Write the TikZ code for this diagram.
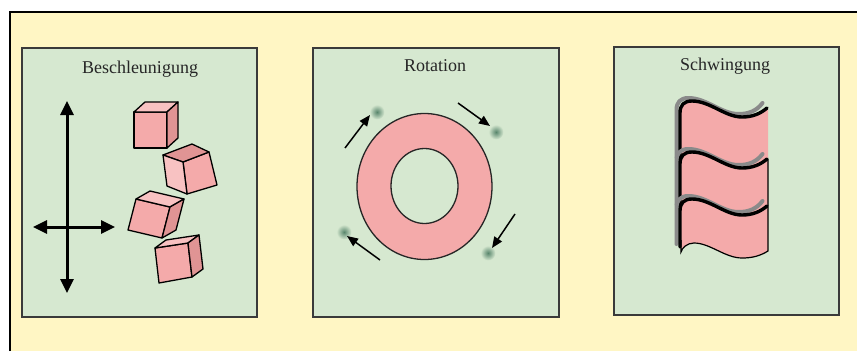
\documentclass[tikz,border=0pt]{standalone}
\usepackage{fontspec}
\setmainfont{Liberation Serif}
\usetikzlibrary{arrows.meta}
\definecolor{bgyellow}{HTML}{FFF6C4}
\definecolor{panelgreen}{HTML}{D6E8D0}
\definecolor{pinkmid}{HTML}{F4AAAA}
\definecolor{pinklight}{HTML}{F8C2C2}
\definecolor{pinkdark}{HTML}{E09494}
\definecolor{framegray}{HTML}{3A3A3A}
\definecolor{textgray}{HTML}{262626}
\definecolor{blobc}{HTML}{58866C}
\definecolor{shadowgray}{HTML}{8A8A8A}
\tikzset{
  panel/.style={draw=framegray, line width=1.5pt, fill=panelgreen},
  title/.style={anchor=base, text=textgray, font=\fontsize{18}{20}\selectfont, inner sep=0pt},
  face/.style={draw=black, line width=1.3pt, line join=round},
  bigarrow/.style={line width=3pt, {Triangle[width=13pt,length=14pt]}-{Triangle[width=13pt,length=14pt]}},
  rotarrow/.style={line width=1.5pt, -{Triangle[width=9pt,length=11pt]}},
  ringline/.style={draw=black!85, line width=1.3pt},
  wavethick/.style={line width=3.4pt, black, line cap=round, line join=round},
  waveshadow/.style={line width=4pt, shadowgray, line cap=round, line join=round},
}
\begin{document}
\begin{tikzpicture}[x=1pt,y=-1pt]
\useasboundingbox (0,0) rectangle (857,351);
\fill[white] (0,0) rectangle (857,351);
\fill[bgyellow] (10,12) rectangle (857,351);
\draw[black, line width=2pt] (10,351) -- (10,12) -- (857,12);

% panels
\draw[panel] (22,48) rectangle (257,317);
\draw[panel] (313,48) rectangle (559,317);
\draw[panel] (614,47) rectangle (839,315);
\node[title] (t1) at (140,73) {Beschleunigung};
\node[title] (t2) at (435,71) {Rotation};
\node[title] (t3) at (725,70) {Schwingung};

% panel 1 arrows
\coordinate (vtop) at (67,101);
\coordinate (vbot) at (67,293);
\coordinate (hleft) at (33,227);
\coordinate (hright) at (115,227);
\draw[bigarrow] (vtop) -- (vbot);
\draw[bigarrow] (hleft) -- (hright);

% cube 1
\draw[face, fill=pinkmid] (134,112) -- (167,112) -- (167,148) -- (134,148) -- cycle;
\draw[face, fill=pinklight] (134,112) -- (145,102) -- (178,102) -- (167,112) -- cycle;
\draw[face, fill=pinkdark] (167,112) -- (178,102) -- (178,138) -- (167,148) -- cycle;
% cube 2
\draw[face, fill=pinkmid] (183,162) -- (209,152) -- (217,185) -- (187,194) -- cycle;
\draw[face, fill=pinkdark] (163,155) -- (192,144) -- (209,152) -- (183,162) -- cycle;
\draw[face, fill=pinklight] (163,155) -- (183,162) -- (187,194) -- (167,186) -- cycle;
% cube 3
\draw[face, fill=pinkmid] (136,199) -- (170,207) -- (162,238) -- (128,230) -- cycle;
\draw[face, fill=pinklight] (136,199) -- (150,191) -- (184,199) -- (170,207) -- cycle;
\draw[face, fill=pinkdark] (170,207) -- (184,199) -- (176,230) -- (162,238) -- cycle;
% cube 4
\draw[face, fill=pinkmid] (155,248) -- (188,243) -- (192,277) -- (159,283) -- cycle;
\draw[face, fill=pinklight] (155,248) -- (166,240) -- (199,235) -- (188,243) -- cycle;
\draw[face, fill=pinkdark] (188,243) -- (199,235) -- (203,269) -- (192,277) -- cycle;

% panel 2 ring
\path[ringline, fill=pinkmid, even odd rule] (424.5,186.5) ellipse [x radius=67.5, y radius=73]
  (424.5,186) ellipse [x radius=33.5, y radius=37.5];
% blobs
\shade[inner color=blobc, outer color=panelgreen] (377,112) circle (7.5);
\shade[inner color=blobc, outer color=panelgreen] (496,132) circle (7.5);
\shade[inner color=blobc, outer color=panelgreen] (488,253) circle (7.5);
\shade[inner color=blobc, outer color=panelgreen] (344,232) circle (7.5);
% rotation arrows
\coordinate (a1s) at (345,148); \coordinate (a1e) at (370,115);
\coordinate (a2s) at (458,103); \coordinate (a2e) at (490,126);
\coordinate (a3s) at (515,214); \coordinate (a3e) at (492,248);
\coordinate (a4s) at (380,260); \coordinate (a4e) at (347,236);
\draw[rotarrow] (a1s) -- (a1e);
\draw[rotarrow] (a2s) -- (a2e);
\draw[rotarrow] (a3s) -- (a3e);
\draw[rotarrow] (a4s) -- (a4e);

% panel 3 waves
\fill[pinkmid] (680,113) .. controls (680,105) and (684,101) .. (692,101)
  .. controls (710,101) and (725,117) .. (742,117)
  .. controls (752,117) and (760,114) .. (768,108)
  -- (768,251)
  .. controls (760,256) and (752,258) .. (742,258)
  .. controls (725,258) and (710,243) .. (694,243)
  .. controls (687,243) and (682,248) .. (681,252) -- cycle;
\draw[black, line width=1.2pt] (768,159) -- (768,251)
  .. controls (760,256) and (752,258) .. (742,258)
  .. controls (725,258) and (710,243) .. (694,243)
  .. controls (687,243) and (682,248) .. (681,252) -- (681,240);
\foreach \yo/\yb in {101/160, 152/207, 199/247}{
  \draw[waveshadow, shift={(-3.5,-3)}] (680,\yb) -- (680,\yo+12) .. controls (680,\yo+4) and (684,\yo) .. (692,\yo)
    .. controls (710,\yo) and (725,\yo+16) .. (742,\yo+16)
    .. controls (752,\yo+16) and (760,\yo+13) .. (766,\yo+5);
  \draw[wavethick] (680,\yb) -- (680,\yo+12) .. controls (680,\yo+4) and (684,\yo) .. (692,\yo)
    .. controls (710,\yo) and (725,\yo+16) .. (742,\yo+16)
    .. controls (752,\yo+16) and (760,\yo+13) .. (767,\yo+7);
}
\end{tikzpicture}
\end{document}
